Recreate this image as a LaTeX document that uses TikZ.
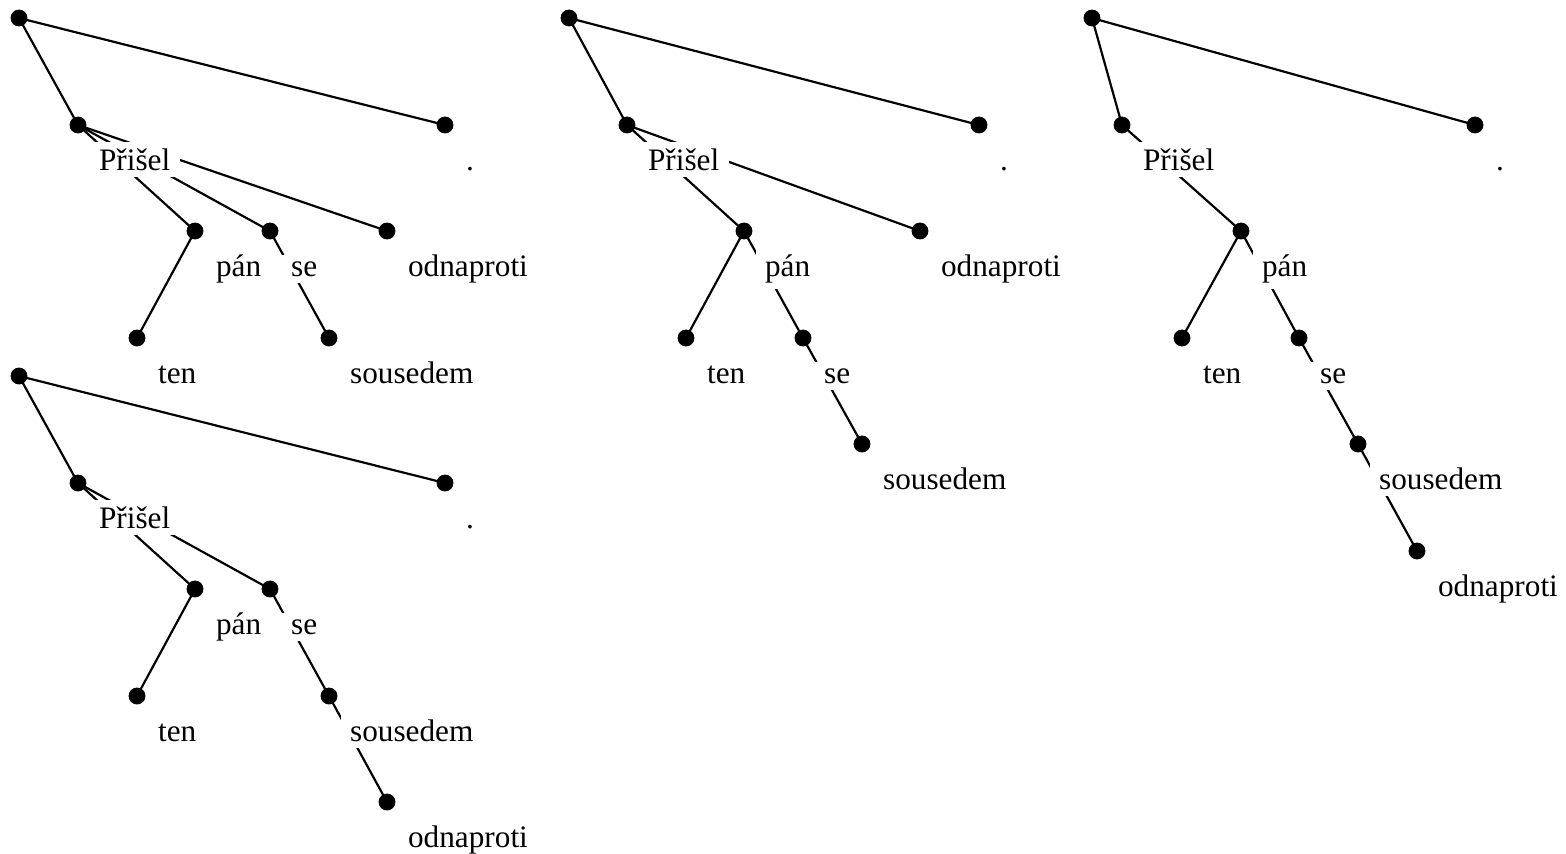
\documentclass[tikz,border=0pt]{standalone}
\usepackage{fontspec}
\setmainfont{Liberation Serif}

\tikzset{
  dot/.style={circle, fill=black, inner sep=0pt, minimum size=5.4pt},
  word/.style={fill=white, inner xsep=3pt, inner ysep=2pt, anchor=base west, xshift=3.4pt, yshift=-14.4pt},
}

\begin{document}
\begin{tikzpicture}[x=0.32pt, y=-0.32pt, line width=0.7pt]
\useasboundingbox (0, 0) rectangle (1566, 853);

% first tree
\node [dot] (a0) at (19, 18) {};
\node [dot] (a1) at (78, 125) {};
\node [dot] (a2) at (137, 338) {};
\node [dot] (a3) at (195, 231) {};
\node [dot] (a4) at (270, 231) {};
\node [dot] (a5) at (329, 338) {};
\node [dot] (a6) at (387, 231) {};
\node [dot] (a7) at (445, 125) {};

\draw (a0.center) to (a1.center);
\draw (a0.center) to (a7.center);
\draw (a1.center) to (a3.center);
\draw (a1.center) to (a4.center);
\draw (a1.center) to (a6.center);
\draw (a3.center) to (a2.center);
\draw (a4.center) to (a5.center);

\node [word] (a1w) at (a1) {Přišel};
\node [word] (a2w) at (a2) {ten};
\node [word] (a3w) at (a3) {pán};
\node [word] (a4w) at (a4) {se};
\node [word] (a5w) at (a5) {sousedem};
\node [word] (a6w) at (a6) {odnaproti};
\node [word] (a7w) at (a7) {.};

% second tree
\newcommand{\offB}{550}

\node [dot] (b0) at (\offB+19, 18) {};
\node [dot] (b1) at (\offB+77, 125) {};
\node [dot] (b2) at (\offB+136, 338) {};
\node [dot] (b3) at (\offB+194, 231) {};
\node [dot] (b4) at (\offB+253, 338) {};
\node [dot] (b5) at (\offB+312, 444) {};
\node [dot] (b6) at (\offB+370, 231) {};
\node [dot] (b7) at (\offB+429, 125) {};

\draw (b0.center) to (b1.center);
\draw (b0.center) to (b7.center);
\draw (b1.center) to (b3.center);
\draw (b1.center) to (b6.center);
\draw (b3.center) to (b2.center);
\draw (b3.center) to (b4.center);
\draw (b4.center) to (b5.center);

\node [word] (b1w) at (b1) {Přišel};
\node [word] (b2w) at (b2) {ten};
\node [word] (b3w) at (b3) {pán};
\node [word] (b4w) at (b4) {se};
\node [word] (b5w) at (b5) {sousedem};
\node [word] (b6w) at (b6) {odnaproti};
\node [word] (b7w) at (b7) {.};

% third tree
\newcommand{\offC}{1073}

\node [dot] (c0) at (\offC+19, 18) {};
\node [dot] (c1) at (\offC+49, 125) {};
\node [dot] (c2) at (\offC+109, 338) {};
\node [dot] (c3) at (\offC+168, 231) {};
\node [dot] (c4) at (\offC+226, 338) {};
\node [dot] (c5) at (\offC+285, 444) {};
\node [dot] (c6) at (\offC+344, 551) {};
\node [dot] (c7) at (\offC+402, 125) {};

\draw (c0.center) to (c1.center);
\draw (c0.center) to (c7.center);
\draw (c1.center) to (c3.center);
\draw (c3.center) to (c2.center);
\draw (c3.center) to (c4.center);
\draw (c4.center) to (c5.center);
\draw (c5.center) to (c6.center);

\node [word] (c1w) at (c1) {Přišel};
\node [word] (c2w) at (c2) {ten};
\node [word] (c3w) at (c3) {pán};
\node [word] (c4w) at (c4) {se};
\node [word] (c5w) at (c5) {sousedem};
\node [word] (c6w) at (c6) {odnaproti};
\node [word] (c7w) at (c7) {.};

% fourth tree
\newcommand{\offD}{358}

\node [dot] (d0) at (19, \offD+18) {};
\node [dot] (d1) at (78, \offD+125) {};
\node [dot] (d2) at (137, \offD+338) {};
\node [dot] (d3) at (195, \offD+231) {};
\node [dot] (d4) at (270, \offD+231) {};
\node [dot] (d5) at (329, \offD+338) {};
\node [dot] (d6) at (387, \offD+444) {};
\node [dot] (d7) at (445, \offD+125) {};

\draw (d0.center) to (d1.center);
\draw (d0.center) to (d7.center);
\draw (d1.center) to (d3.center);
\draw (d1.center) to (d4.center);
\draw (d3.center) to (d2.center);
\draw (d4.center) to (d5.center);
\draw (d5.center) to (d6.center);

\node [word] (d1w) at (d1) {Přišel};
\node [word] (d2w) at (d2) {ten};
\node [word] (d3w) at (d3) {pán};
\node [word] (d4w) at (d4) {se};
\node [word] (d5w) at (d5) {sousedem};
\node [word] (d6w) at (d6) {odnaproti};
\node [word] (d7w) at (d7) {.};
\end{tikzpicture}
\end{document}
